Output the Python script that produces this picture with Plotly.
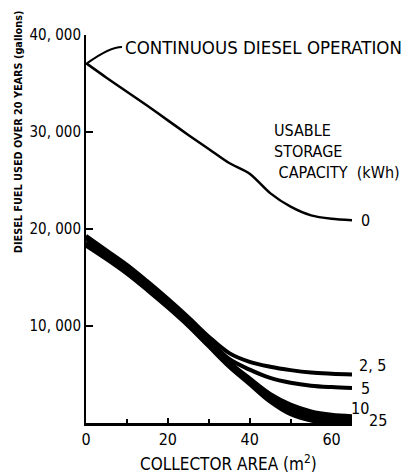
import plotly.graph_objects as go

# ---- data ----
area = [0, 5, 10, 15, 20, 25, 30, 35, 40, 45, 50, 55, 60, 65]
diesel_0 = [37100, 35600, 34150, 32700, 31200, 29700, 28250, 26800, 25700, 23700, 22300, 21400, 21050, 20900]

area_s = [0, 5, 10, 15, 20, 25, 30, 35, 40, 45, 50, 55, 60, 65]
diesel_2_5 = [19300, 17800, 16300, 14600, 12800, 10900, 8900, 7200, 6300, 5800, 5450, 5200, 5080, 5000]
diesel_5 = [19000, 17500, 16000, 14300, 12500, 10600, 8600, 6600, 5500, 4650, 4150, 3850, 3700, 3600]
diesel_10 = [18600, 17200, 15700, 14000, 12200, 10300, 8300, 6300, 4600, 3000, 1900, 1200, 850, 700]
diesel_25 = [18300, 16900, 15400, 13700, 11900, 10000, 7900, 5800, 4000, 2200, 900, 250, 0, 0]

curve_labels = ["0", "2, 5", "5", "10", "25"]
curve_series = [diesel_0, diesel_2_5, diesel_5, diesel_10, diesel_25]
label_dx = [7, 5, 7, -3, 15]
label_dy = [0, 9, 0, 8, 3]

x_ticks = [0, 20, 40, 60]
x_ticktext = ["0", "20", "40", "60"]
x_minor = [10, 30, 50]
y_ticks = [10000, 20000, 30000, 40000]
y_ticktext = ["10, 000", "20, 000", "30, 000", "40, 000"]

FONT = "DejaVu Sans Condensed, Liberation Sans Narrow, Arial Narrow, DejaVu Sans, sans-serif"

fig = go.Figure()
fig.add_trace(go.Scatter(x=area, y=diesel_0, mode="lines", line=dict(color="black", width=2.5, shape="spline", smoothing=0.8), cliponaxis=False))
fig.add_trace(go.Scatter(x=area_s, y=diesel_25, mode="lines", line=dict(color="black", width=4, shape="spline"), cliponaxis=False))
fig.add_trace(go.Scatter(x=area_s, y=diesel_10, mode="lines", fill="tonexty", fillcolor="black",
                         line=dict(color="black", width=4, shape="spline"), cliponaxis=False))
fig.add_trace(go.Scatter(x=area_s, y=diesel_5, mode="lines", line=dict(color="black", width=4, shape="spline"), cliponaxis=False))
fig.add_trace(go.Scatter(x=area_s, y=diesel_2_5, mode="lines", line=dict(color="black", width=4, shape="spline"), cliponaxis=False))

for t, s, dx, dy in zip(curve_labels, curve_series, label_dx, label_dy):
    fig.add_annotation(x=area_s[-1], y=s[-1], text=t, showarrow=False, xanchor="left", yanchor="middle",
                       xshift=dx, yshift=dy, font=dict(family=FONT, size=16, color="black"))

fig.add_annotation(x=9.0, y=38700, text="CONTINUOUS DIESEL OPERATION", showarrow=False,
                   xanchor="left", yanchor="middle", font=dict(family=FONT, size=18.5, color="black"))
fig.add_shape(type="path", path="M 8.8 38770 Q 5.8 38770 0.3 37100", xref="x", yref="y",
              line=dict(color="black", width=2))

fig.add_annotation(x=45.5, y=31300, text="USABLE<br>STORAGE<br>&nbsp;CAPACITY  (kWh)", showarrow=False,
                   xanchor="left", yanchor="top", align="left",
                   font=dict(family=FONT, size=16, color="black"))

fig.add_annotation(xref="paper", yref="paper", x=-0.255, y=0.75,
                   text="<b>DIESEL FUEL USED OVER 20 YEARS (gallons)</b>", textangle=-90, showarrow=False,
                   xanchor="center", yanchor="middle", font=dict(family=FONT, size=10.8, color="black"))

fig.add_annotation(xref="paper", yref="paper", x=0.535, y=-0.103, yanchor="middle",
                   text="COLLECTOR AREA (m<sup>2</sup>)", showarrow=False,
                   font=dict(family=FONT, size=17, color="black"))

fig.update_xaxes(range=[0, 65], showline=True, linecolor="black", linewidth=2.5,
                 tickvals=x_ticks, ticktext=x_ticktext, ticks="inside", ticklen=5, tickwidth=1.5,
                 tickcolor="black", showgrid=False, zeroline=False,
                 minor=dict(tickvals=x_minor, ticks="inside", ticklen=4, tickwidth=1.5, tickcolor="black", showgrid=False),
                 tickfont=dict(family=FONT, size=16, color="black"))
fig.update_yaxes(range=[0, 40000], showline=True, linecolor="black", linewidth=2,
                 tickvals=y_ticks, ticktext=y_ticktext, ticks="inside", ticklen=7, tickwidth=2,
                 tickcolor="black", showgrid=False, zeroline=False,
                 tickfont=dict(family=FONT, size=15, color="black"))

fig.update_layout(width=412, height=466,
                  margin=dict(l=78, r=67.5, t=27, b=51, autoexpand=False),
                  plot_bgcolor="white", paper_bgcolor="white", showlegend=False)

fig.write_html("out.html")
